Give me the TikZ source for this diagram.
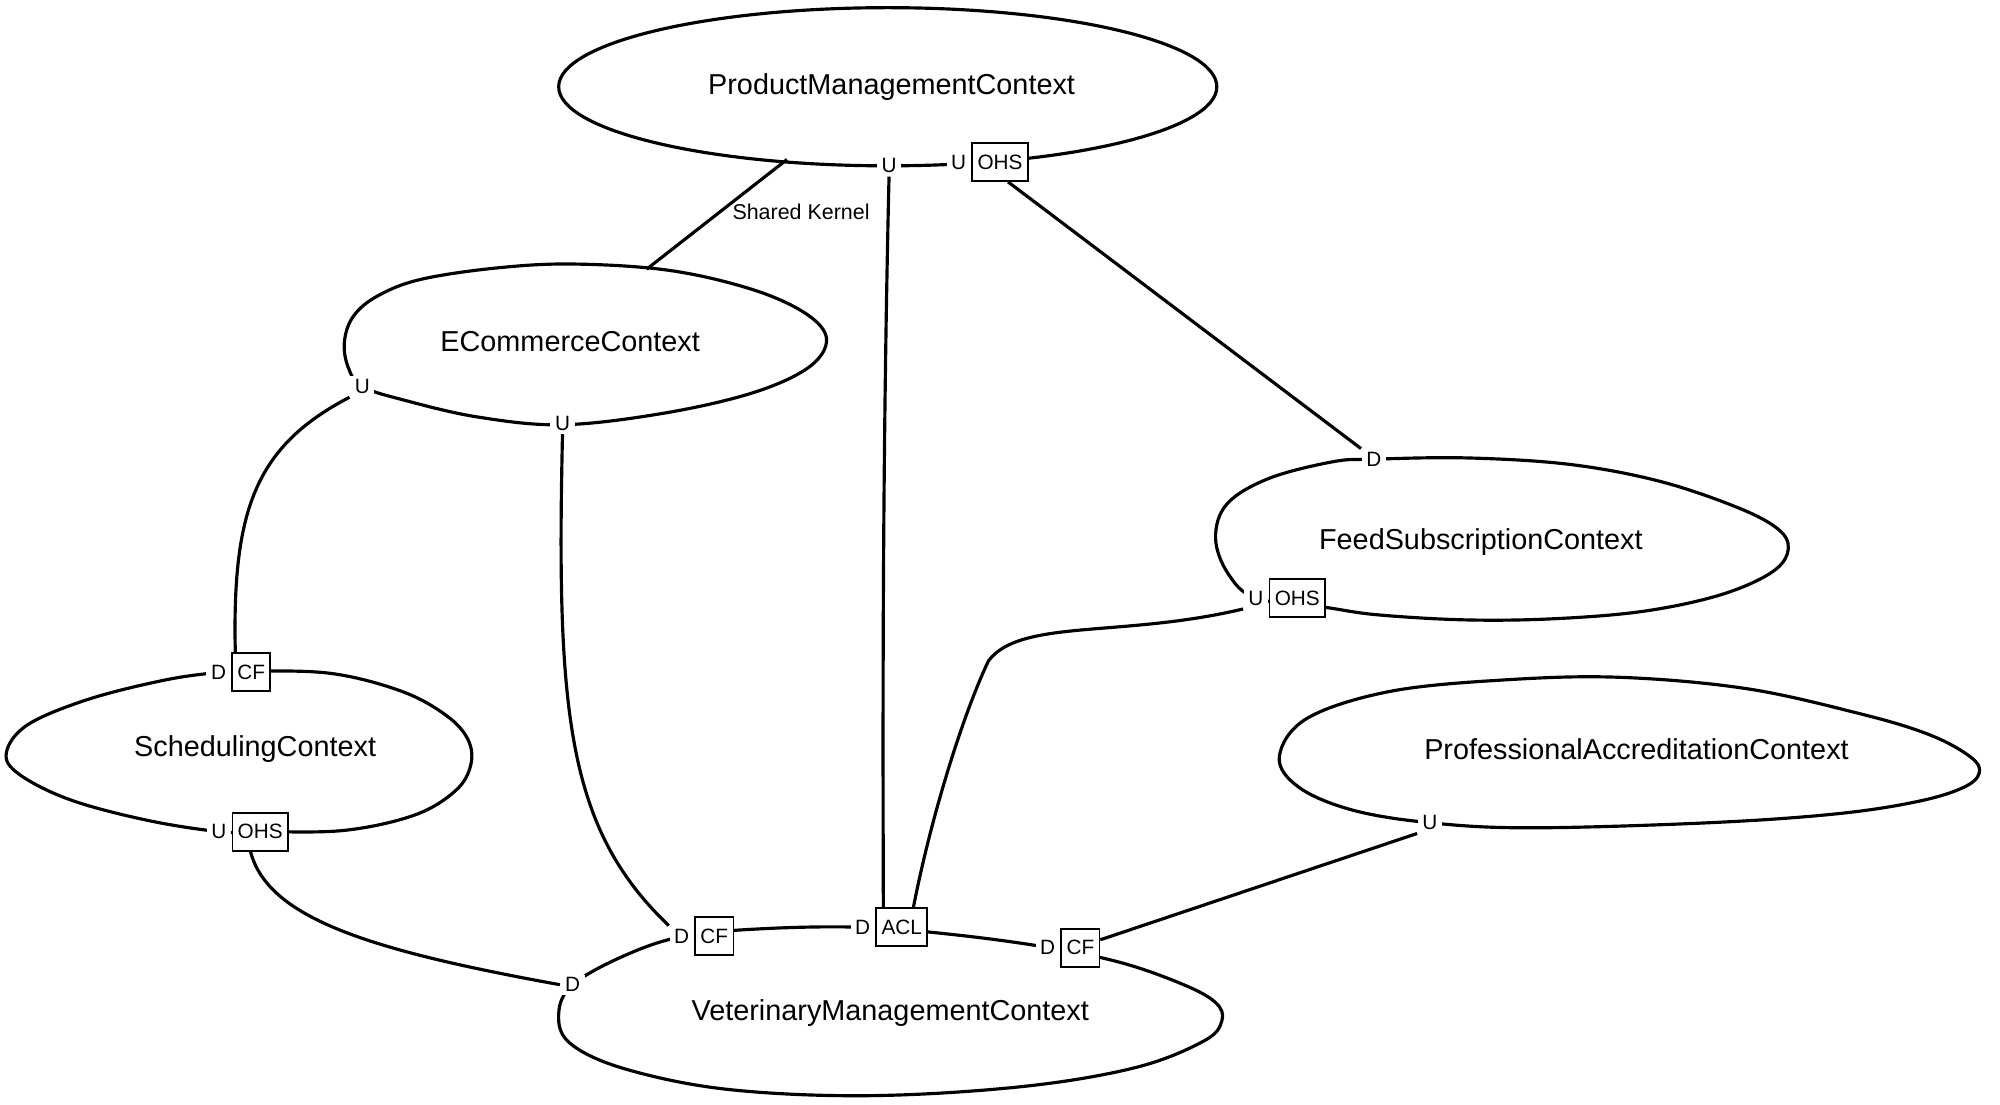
\documentclass[tikz,border=0pt]{standalone}
\usepackage{fontspec}
\setmainfont{Liberation Sans}
\usetikzlibrary{calc}
\begin{document}
\begin{tikzpicture}[x=0.012755cm,y=-0.012755cm,
  outline/.style={line width=0.9pt, line join=round},
  link/.style={line width=0.9pt},
  ctxname/.style={font=\fontsize{8.2}{10}\selectfont, inner sep=0pt},
  portlbl/.style={font=\fontsize{5.9}{7}\selectfont, fill=white, inner xsep=1.3pt, inner ysep=0.8pt},
  portbox/.style={font=\fontsize{5.9}{7}\selectfont, fill=white, draw, line width=0.5pt,
    inner xsep=1.5pt, inner ysep=0pt, minimum height=10.8pt},
  relname/.style={font=\fontsize{6.1}{7}\selectfont, inner sep=1pt}]
\useasboundingbox (0,0) rectangle (1568,866);

% bounded contexts
\draw[outline] (696,68) ellipse [x radius=258, y radius=62];
\draw[outline] plot[smooth cycle, tension=0.6] coordinates {
  (270,268) (277,248) (296,232) (330,219) (390,210) (450,207) (525,212) (590,227) (632,246)
  (648,266) (634,288) (590,308) (520,324) (441,333) (375,327) (318,314) (284,303) (273,288)};
\draw[outline] plot[smooth cycle, tension=0.6] coordinates {
  (953,422) (962,395) (995,375) (1045,362) (1077,360) (1150,359) (1230,364) (1300,377)
  (1360,397) (1393,414) (1402,430) (1390,448) (1350,466) (1290,479) (1220,485) (1150,486)
  (1080,482) (1038,476) (985,469) (963,450)};
\draw[outline] plot[smooth cycle, tension=0.6] coordinates {
  (5,590) (22,568) (70,548) (130,533) (173,527) (197,526) (260,528) (315,542) (350,561)
  (367,580) (369,600) (357,620) (325,639) (270,651) (204,652) (172,652) (115,643) (55,627) (15,607)};
\draw[outline] plot[smooth cycle, tension=0.6] coordinates {
  (1003,593) (1025,563) (1090,542) (1180,533) (1270,531) (1370,540) (1460,560) (1510,575)
  (1540,590) (1552,603) (1542,616) (1505,628) (1440,638) (1340,645) (1200,649) (1121,645)
  (1060,635) (1018,617)};
\draw[outline] plot[smooth cycle, tension=0.6] coordinates {
  (438,795) (449,772) (490,749) (536,734) (600,728) (677,727) (750,733) (823,743) (880,755)
  (928,772) (953,786) (958,800) (944,816) (890,837) (800,852) (680,859) (570,854) (490,838) (447,818)};

\node[ctxname] (pm) at (699,68) {ProductManagementContext};
\node[ctxname] (ec) at (447,268) {ECommerceContext};
\node[ctxname] (fs) at (1161,425) {FeedSubscriptionContext};
\node[ctxname] (sc) at (200,587) {SchedulingContext};
\node[ctxname] (pa) at (1283,587) {ProfessionalAccreditationContext};
\node[ctxname] (vm) at (698,794) {VeterinaryManagementContext};

% relationship ends: role letter, then the pattern box beside it
\node[portlbl] (pmu1) at (697,130) {U};
\node[portbox] (pmohs) at (784,127) {OHS};
\node[portlbl, anchor=east] (pmu2) at (pmohs.west) {U};
\node[portlbl] (ecu1) at (284,303) {U};
\node[portlbl] (ecu2) at (441,332) {U};
\node[portlbl] (fsd) at (1077,360) {D};
\node[portbox] (fsohs) at (1017,469) {OHS};
\node[portlbl, anchor=east] (fsu) at (fsohs.west) {U};
\node[portbox] (sccf) at (197,527) {CF};
\node[portlbl, anchor=east] (scd) at (sccf.west) {D};
\node[portbox] (scohs) at (204,652) {OHS};
\node[portlbl, anchor=east] (scu) at (scohs.west) {U};
\node[portlbl] (pau) at (1121,645) {U};
\node[portlbl] (vmd0) at (449,772) {D};
\node[portbox] (vmcf1) at (560,734) {CF};
\node[portlbl, anchor=east] (vmd1) at (vmcf1.west) {D};
\node[portbox] (vmacl) at (707,727) {ACL};
\node[portlbl, anchor=east] (vmd2) at (vmacl.west) {D};
\node[portbox] (vmcf2) at (847,743) {CF};
\node[portlbl, anchor=east] (vmd3) at (vmcf2.west) {D};

% relationships
\coordinate (pmsk) at (617,125);
\coordinate (ecsk) at (507,211);
\draw[link] (pmsk) -- (ecsk);
\node[relname] (sk) at (628,166) {Shared Kernel};

\draw[link] (pmu1.south) .. controls (692,350) and (692,550)
  .. ($(vmacl.north west)!0.15!(vmacl.north east)$);
\draw[link] ($(pmohs.south west)!0.64!(pmohs.south east)$) -- (fsd.north west);
\draw[link] (ecu1.south west) .. controls (200,350) and (182,400)
  .. ($(sccf.north west)!0.1!(sccf.north east)$);
\draw[link] (ecu2.south) .. controls (436,560) and (445,650) .. (vmd1.north west);
\draw[link] (fsu.south west) .. controls (880,500) and (800,485) .. (775,518)
  .. controls (755,560) and (730,640) .. ($(vmacl.north west)!0.72!(vmacl.north east)$);
\draw[link] ($(scohs.south west)!0.33!(scohs.south east)$) .. controls (210,720) and (290,745)
  .. (vmd0.west);
\draw[link] (pau.south west) -- ($(vmcf2.north east)!0.3!(vmcf2.south east)$);
\end{tikzpicture}
\end{document}
